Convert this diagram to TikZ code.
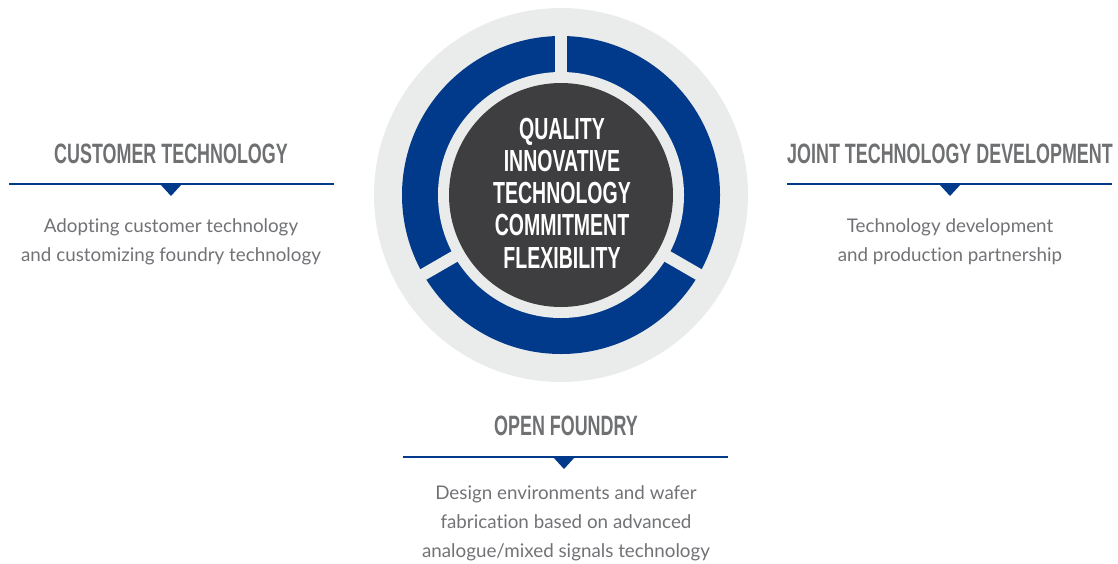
\documentclass[tikz,border=0pt]{standalone}
\usepackage{fontspec}
\newfontfamily\headfont[FakeStretch=0.64]{Liberation Sans}
\newfontfamily\bodyfont[Ligatures={NoCommon}]{Lato}
\definecolor{ringgray}{HTML}{EAEBEB}
\definecolor{ringblue}{HTML}{023A8B}
\definecolor{coredark}{HTML}{3E3E40}
\definecolor{headgray}{HTML}{6F7072}
\definecolor{bodygray}{HTML}{717275}
\begin{document}
\begin{tikzpicture}[x=1pt,y=-1pt,
    heading/.style={anchor=base,inner sep=0pt,text=headgray,font=\headfont\bfseries\fontsize{28}{28}\selectfont},
    bodytext/.style={anchor=base,inner sep=0pt,text=bodygray,align=center,font=\bodyfont\fontsize{18.8}{29}\selectfont},
    corelabel/.style={anchor=base,inner sep=0pt,text=white,align=center,font=\headfont\bfseries\fontsize{30.5}{32.2}\selectfont},
    rule/.style={ringblue,line width=2.4pt},
    pointer/.style={fill=ringblue}]
  \useasboundingbox (0,0) rectangle (1118,563);

  % ring
  \coordinate (ctr) at (561,195);
  \fill[ringgray] (ctr) circle (187);
  \fill[ringblue] (ctr) circle (159);
  \fill[ringgray] (ctr) circle (123);
  \foreach \a in {30,150,270}
    \draw[ringgray,line width=12pt] (ctr) -- ++(\a:166);
  \fill[coredark] (ctr) circle (112);
  % base anchor sits on the last line
  \node[corelabel] (core) at (562,268) {QUALITY\\INNOVATIVE\\TECHNOLOGY\\COMMITMENT\\FLEXIBILITY};

  % customer technology
  \node[heading] (custhead) at (171,163) {CUSTOMER TECHNOLOGY};
  \coordinate (custL) at (9,184);
  \coordinate (custR) at (334,184);
  \draw[rule] (custL) -- (custR);
  \fill[pointer] (160,184) -- (182,184) -- (171,196) -- cycle;
  \node[bodytext] (custtext) at (171,261) {Adopting customer technology\\and customizing foundry technology};

  % joint development
  \node[heading] (jointhead) at (950,163) {JOINT TECHNOLOGY DEVELOPMENT};
  \coordinate (jointL) at (787,184);
  \coordinate (jointR) at (1112,184);
  \draw[rule] (jointL) -- (jointR);
  \fill[pointer] (939,184) -- (961,184) -- (950,196) -- cycle;
  \node[bodytext] (jointtext) at (950,261) {Technology development\\and production partnership};

  % open foundry
  \node[heading] (openhead) at (566,435) {OPEN FOUNDRY};
  \coordinate (openL) at (403,457);
  \coordinate (openR) at (728,457);
  \draw[rule] (openL) -- (openR);
  \fill[pointer] (553,457) -- (575,457) -- (564,469) -- cycle;
  \node[bodytext] (opentext) at (566,557) {Design environments and wafer\\fabrication based on advanced\\analogue/mixed signals technology};
\end{tikzpicture}
\end{document}
